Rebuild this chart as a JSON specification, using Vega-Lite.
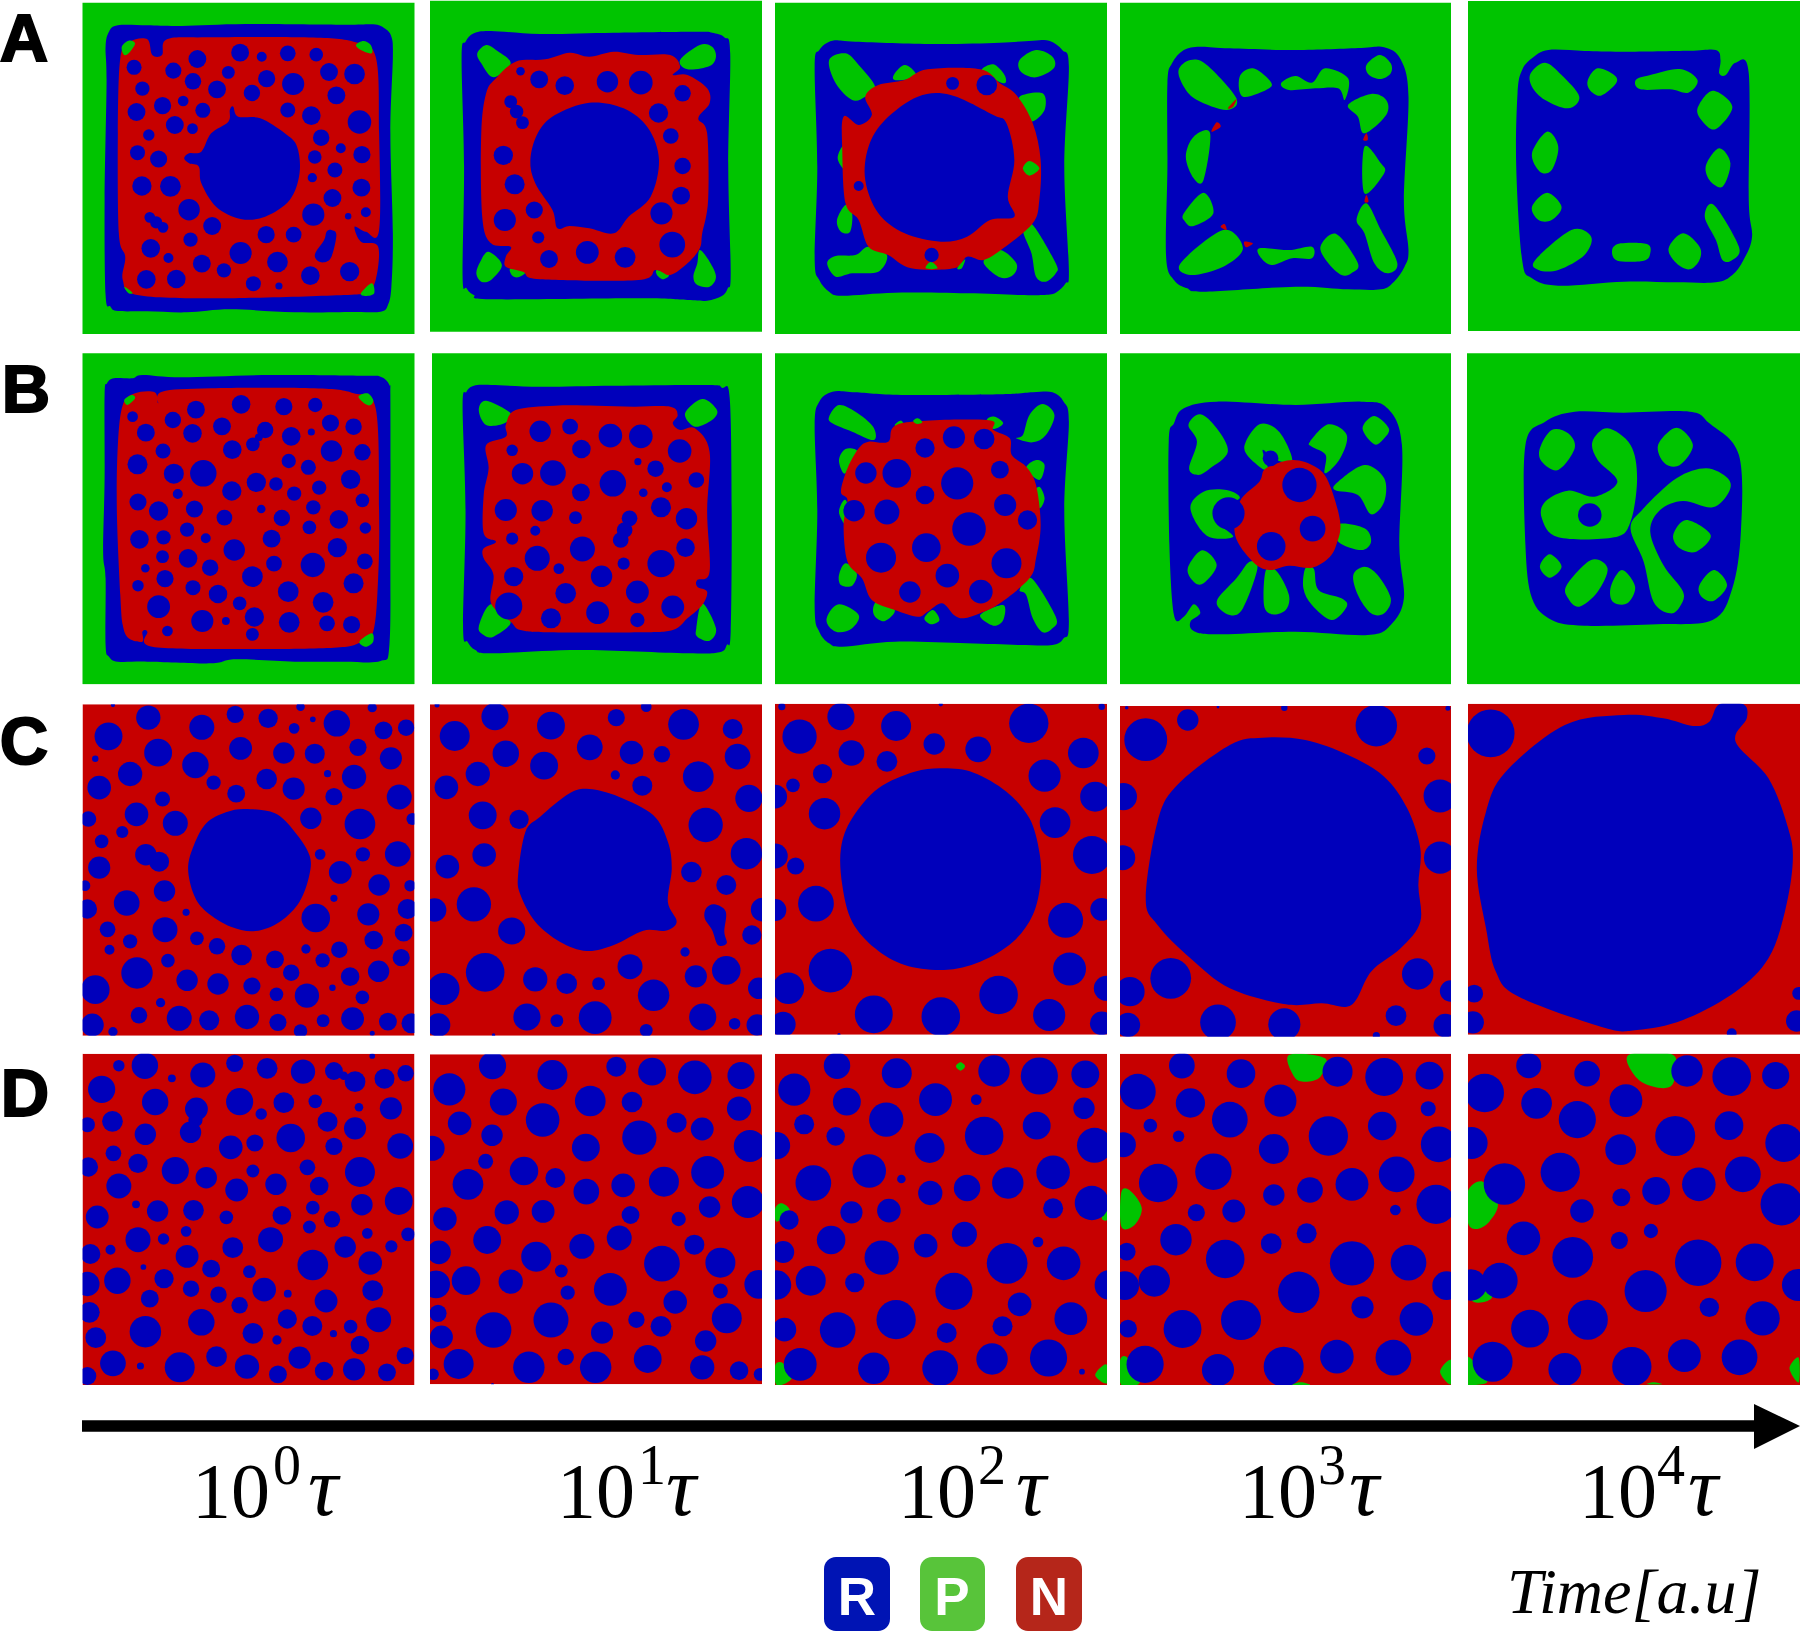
{"$schema":"https://vega.github.io/schema/vega-lite/v6.json","width":1800,"height":1631,"padding":0,"autosize":{"type":"none"},"background":"white","config":{"view":{"stroke":null},"range":{"category":["#C70000","#00C400","#0000BB"]}},"resolve":{"scale":{"x":"independent","y":"independent"}},"layer":[
{"data":{"values":[{"x":82.5,"x2":414.5,"y":2.7,"y2":334,"k":"P"},{"x":430,"x2":762,"y":0.7,"y2":331.7,"k":"P"},{"x":775,"x2":1107,"y":2.7,"y2":334,"k":"P"},{"x":1120,"x2":1451,"y":2.7,"y2":334,"k":"P"},{"x":1468,"x2":1800,"y":1,"y2":331,"k":"P"},{"x":82.5,"x2":414.5,"y":353.3,"y2":684.3,"k":"P"},{"x":432,"x2":762,"y":353.3,"y2":684.3,"k":"P"},{"x":775,"x2":1107,"y":353.3,"y2":684.3,"k":"P"},{"x":1120,"x2":1451,"y":353.3,"y2":684.3,"k":"P"},{"x":1467,"x2":1800,"y":353.3,"y2":684.3,"k":"P"},{"x":82.5,"x2":414.5,"y":704.3,"y2":1035.7,"k":"N"},{"x":430,"x2":762,"y":704.3,"y2":1035.7,"k":"N"},{"x":775,"x2":1107,"y":703.7,"y2":1034.7,"k":"N"},{"x":1120,"x2":1451,"y":706,"y2":1036.7,"k":"N"},{"x":1468,"x2":1800,"y":703.7,"y2":1034.7,"k":"N"},{"x":82.5,"x2":414.5,"y":1053.7,"y2":1385,"k":"N"},{"x":430,"x2":762,"y":1054.3,"y2":1384.3,"k":"N"},{"x":775,"x2":1107,"y":1053.7,"y2":1385,"k":"N"},{"x":1120,"x2":1451,"y":1053.7,"y2":1385,"k":"N"},{"x":1468,"x2":1800,"y":1053.7,"y2":1385,"k":"N"}]},"mark":"rect","encoding":{"x":{"field":"x","type":"quantitative","axis":null,"scale":{"domain":[0,1800],"nice":false,"zero":false}},"x2":{"field":"x2"},"y":{"field":"y","type":"quantitative","axis":null,"scale":{"domain":[0,1631],"nice":false,"zero":false,"reverse":true}},"y2":{"field":"y2"},"color":{"field":"k","type":"nominal","legend":null}}},

{"data":{"values":[
{"s":1,"k":"R","x":[215,222,240,300,370,500,700,760,783,797,800,795,800,797,790,775,720,600,470,380,300,240,225,215,213,217],"y":[140,95,76,76,78,72,74,73,85,110,170,400,700,860,915,935,936,937,928,937,934,933,920,885,600,250]},
{"s":2,"k":"N","x":[245,265,300,310,330,340,420,620,720,765,772,772,745,722,735,770,765,745,700,440,280,250,255,242,240],"y":[175,125,118,165,165,118,112,112,125,170,400,690,695,680,725,740,840,875,885,895,885,840,770,700,400]},
{"s":3,"k":"R","x":[475,485,530,580,605,610,590,540,490,440,410,405,385,375,385,410,430,465,468],"y":[320,350,355,400,440,520,600,650,657,620,550,500,490,475,460,455,400,365,330]},
{"s":4,"k":"R","x":[675,685,675,660,645,642,660,665],"y":[690,705,770,787,780,760,720,695]},
{"s":5,"k":"P","x":[248,262,275,265,253],"y":[140,122,130,155,165]},
{"s":6,"k":"P","x":[725,740,755,757,735],"y":[135,123,135,160,150]},
{"s":7,"k":"P","x":[735,757,762,745],"y":[880,850,880,888]},
{"s":8,"k":"P","x":[253,270,262],"y":[860,878,880]},
{"s":9,"k":"R","x":[940,948,965,1000,1100,1250,1420,1450,1475,1487,1483,1488,1482,1470,1440,1400,1300,1000,965,950,942,945],"y":[170,125,100,93,102,98,95,98,112,160,500,820,865,888,902,900,895,898,885,865,830,500]},
{"s":10,"k":"P","x":[972,990,1010,1040,1005,980],"y":[160,135,150,190,232,190]},
{"s":11,"k":"P","x":[1385,1425,1450,1458,1445,1400],"y":[180,135,140,170,198,208]},
{"s":12,"k":"P","x":[995,1022,1000,980,970,978],"y":[755,795,840,845,820,785]},
{"s":13,"k":"P","x":[1425,1445,1458,1445,1420,1412,1420],"y":[750,785,830,860,855,830,790]},
{"s":14,"k":"P","x":[1040,1070,1055,1042],"y":[805,815,832,825]},
{"s":15,"k":"P","x":[1338,1362,1350,1338],"y":[810,825,838,825]},
{"s":16,"k":"N","x":[990,1010,1050,1110,1160,1200,1250,1300,1365,1385,1370,1400,1440,1445,1422,1440,1442,1430,1425,1400,1365,1335,1300,1100,1065,1030,1030,1040,1000,982,980],"y":[280,235,185,178,158,170,155,165,165,200,225,225,265,310,355,400,600,700,745,790,825,810,840,838,815,800,770,740,730,650,400]},
{"s":17,"k":"R","x":[1200,1270,1320,1342,1325,1280,1250,1200,1160,1135,1125,1090,1080,1095,1130],"y":[308,325,385,480,590,650,700,685,678,685,630,550,480,400,345]}
]},"transform":[{"flatten":["x","y"]}],"mark":{"type":"line","filled":true,"interpolate":"cardinal-closed","strokeWidth":0},"encoding":{"x":{"field":"x","type":"quantitative","axis":null,"scale":{"domain":[0,3665.5],"nice":false,"zero":false}},"y":{"field":"y","type":"quantitative","axis":null,"scale":{"domain":[0,4893],"nice":false,"zero":false,"reverse":true}},"color":{"field":"k","type":"nominal","legend":null},"detail":{"field":"s"},"order":{"value":null}}},
{"data":{"values":[{"x":402,"y":177,"d":50},{"x":489,"y":158,"d":50},{"x":533,"y":170,"d":28},{"x":586,"y":160,"d":44},{"x":644,"y":164,"d":38},{"x":273,"y":202,"d":42},{"x":353,"y":212,"d":45},{"x":465,"y":217,"d":36},{"x":393,"y":244,"d":46},{"x":543,"y":236,"d":48},{"x":670,"y":216,"d":50},{"x":722,"y":222,"d":58},{"x":597,"y":252,"d":62},{"x":290,"y":266,"d":40},{"x":442,"y":268,"d":50},{"x":513,"y":279,"d":46},{"x":685,"y":286,"d":50},{"x":373,"y":303,"d":30},{"x":331,"y":317,"d":48},{"x":278,"y":336,"d":50},{"x":413,"y":331,"d":42},{"x":586,"y":330,"d":42},{"x":634,"y":347,"d":52},{"x":732,"y":366,"d":66},{"x":356,"y":375,"d":50},{"x":392,"y":386,"d":30},{"x":303,"y":405,"d":32},{"x":654,"y":413,"d":46},{"x":694,"y":445,"d":28},{"x":280,"y":458,"d":42},{"x":323,"y":477,"d":48},{"x":641,"y":471,"d":38},{"x":737,"y":464,"d":48},{"x":682,"y":510,"d":42},{"x":636,"y":533,"d":26},{"x":289,"y":558,"d":54},{"x":347,"y":559,"d":58},{"x":736,"y":563,"d":50},{"x":677,"y":594,"d":50},{"x":385,"y":629,"d":60},{"x":638,"y":644,"d":62},{"x":709,"y":649,"d":18},{"x":745,"y":637,"d":28},{"x":432,"y":678,"d":50},{"x":388,"y":719,"d":40},{"x":542,"y":704,"d":48},{"x":598,"y":704,"d":44},{"x":343,"y":774,"d":28},{"x":307,"y":745,"d":52},{"x":490,"y":759,"d":62},{"x":411,"y":791,"d":50},{"x":565,"y":786,"d":58},{"x":456,"y":811,"d":40},{"x":632,"y":827,"d":52},{"x":712,"y":815,"d":54},{"x":298,"y":838,"d":52},{"x":359,"y":837,"d":52},{"x":516,"y":851,"d":42},{"x":568,"y":858,"d":20},{"x":305,"y":652,"d":30},{"x":318,"y":667,"d":34},{"x":332,"y":682,"d":30},
{"x":1060,"y":214,"d":24},{"x":1098,"y":238,"d":50},{"x":1150,"y":257,"d":52},{"x":1237,"y":245,"d":60},{"x":1305,"y":248,"d":66},{"x":1390,"y":280,"d":46},{"x":1341,"y":339,"d":54},{"x":1366,"y":408,"d":44},{"x":1025,"y":466,"d":54},{"x":1390,"y":498,"d":46},{"x":1048,"y":553,"d":56},{"x":1387,"y":587,"d":50},{"x":1088,"y":630,"d":48},{"x":1028,"y":660,"d":62},{"x":1347,"y":640,"d":62},{"x":1096,"y":712,"d":34},{"x":1369,"y":734,"d":72},{"x":1196,"y":757,"d":64},{"x":1273,"y":772,"d":58},{"x":1118,"y":777,"d":50},{"x":1040,"y":305,"d":36},{"x":1052,"y":335,"d":38},{"x":1064,"y":368,"d":36}]},"mark":{"type":"circle","color":"#0000BB","opacity":1},"encoding":{"x":{"field":"x","type":"quantitative","axis":null,"scale":{"domain":[0,3665.5],"nice":false,"zero":false}},"y":{"field":"y","type":"quantitative","axis":null,"scale":{"domain":[0,4893],"nice":false,"zero":false,"reverse":true}},"size":{"field":"d","type":"quantitative","legend":null,"scale":{"type":"pow","exponent":2,"domain":[0,300],"range":[0,11500]}}}},

{"data":{"values":[
{"s":1,"k":"R","x":[68,75,95,130,250,350,400,425,445,455,448,455,450,435,415,380,300,190,110,90,75,68,72],"y":[200,150,122,125,132,128,122,122,150,200,500,810,850,878,885,885,880,878,887,875,840,780,500]},
{"s":2,"k":"P","x":[90,115,135,160,145,125,100],"y":[180,160,195,260,290,300,250]},
{"s":3,"k":"P","x":[405,430,432,405,382,380],"y":[150,170,205,232,215,180]},
{"s":4,"k":"P","x":[190,205,220,220,190],"y":[220,195,215,235,240]},
{"s":5,"k":"P","x":[322,340,357,357,335],"y":[210,193,225,250,230]},
{"s":6,"k":"P","x":[380,415,418,398,385],"y":[290,280,330,365,330]},
{"s":7,"k":"P","x":[103,113,125,115],"y":[475,435,470,510]},
{"s":8,"k":"P","x":[102,115,125,122,108],"y":[660,615,640,695,695]},
{"s":9,"k":"P","x":[87,100,130,150,178,165,125,100],"y":[790,768,765,740,765,815,820,830]},
{"s":10,"k":"P","x":[325,350,375,370,350],"y":[785,750,790,825,832]},
{"s":11,"k":"P","x":[385,400,435,435,420,405,398],"y":[690,675,790,820,845,830,760]},
{"s":12,"k":"N","x":[145,165,205,240,320,350,375,400,412,410,400,355,325,300,280,215,180,150,135,115,110,112,135,155],"y":[290,255,240,208,208,250,285,370,480,600,670,745,780,770,805,805,765,740,660,610,450,350,375,345]},
{"s":13,"k":"R","x":[225,275,340,360,372,362,372,335,300,260,205,165,145,150,175],"y":[290,285,345,370,480,590,650,660,710,725,700,640,540,440,360]},
{"s":14,"k":"P","x":[385,395,410,395],"y":[505,483,505,527]},
{"s":15,"k":"P","x":[237,245,255],"y":[805,785,805]},
{"s":16,"k":"P","x":[285,297,292],"y":[805,778,805]},
{"s":17,"k":"R","x":[605,612,630,655,700,800,900,935,960,972,965,972,966,950,930,880,800,660,635,615,603,605],"y":[250,190,150,140,145,150,144,142,178,290,600,750,800,845,868,868,860,875,865,840,770,500]},
{"s":18,"k":"P","x":[622,640,665,710,695,650,630],"y":[210,180,195,295,330,300,260]},
{"s":19,"k":"P","x":[715,735,760,760,720],"y":[230,205,240,265,290]},
{"s":20,"k":"P","x":[778,800,825,845,880,875,865,830,790],"y":[250,228,248,205,235,300,265,265,270]},
{"s":21,"k":"P","x":[908,928,945,945,930,912],"y":[195,165,190,220,237,225]},
{"s":22,"k":"P","x":[880,915,938,938,905,895],"y":[315,282,300,345,400,350]},
{"s":23,"k":"P","x":[633,645,670,660,645],"y":[470,410,400,540,535]},
{"s":24,"k":"P","x":[905,930,935,905],"y":[440,490,520,580]},
{"s":25,"k":"P","x":[630,660,675,645,632],"y":[640,578,640,678,665]},
{"s":26,"k":"P","x":[893,908,930,955,940,920,905],"y":[660,610,690,790,820,790,700]},
{"s":27,"k":"P","x":[625,690,720,690,640],"y":[790,690,745,800,825]},
{"s":28,"k":"P","x":[745,790,825,825,795,765,748],"y":[745,750,740,775,775,795,775]},
{"s":29,"k":"P","x":[838,862,895,885,870,850],"y":[740,702,790,820,825,790]},
{"s":30,"k":"N","x":[697,710,705],"y":[325,297,320]},
{"s":31,"k":"N","x":[672,680,686],"y":[395,367,380]},
{"s":32,"k":"N","x":[686,692,695],"y":[680,672,690]},
{"s":33,"k":"N","x":[722,735,725],"y":[725,730,742]},
{"s":34,"k":"N","x":[903,908,910],"y":[420,400,420]},
{"s":35,"k":"N","x":[905,908,911],"y":[605,585,605]},
{"s":36,"k":"R","x":[1138,1145,1160,1185,1240,1300,1400,1440,1447,1445,1455,1470,1490,1490,1495,1482,1465,1440,1380,1300,1200,1160,1145,1136],"y":[280,210,175,150,153,155,152,150,180,220,225,188,220,600,710,780,825,847,847,845,857,835,780,500]},
{"s":37,"k":"P","x":[1158,1180,1205,1232,1215,1180,1160],"y":[220,188,225,290,325,300,260]},
{"s":38,"k":"P","x":[1245,1260,1285,1288,1265,1248],"y":[240,205,225,250,287,270]},
{"s":39,"k":"P","x":[1318,1340,1385,1412,1398,1370,1325],"y":[240,225,207,240,278,268,268]},
{"s":40,"k":"P","x":[1412,1435,1465,1440,1420],"y":[325,272,320,387,365]},
{"s":41,"k":"P","x":[1160,1183,1200,1190,1172],"y":[460,395,440,510,515]},
{"s":42,"k":"P","x":[1425,1445,1462,1450,1430],"y":[495,445,490,560,540]},
{"s":43,"k":"P","x":[1160,1183,1205,1190,1170],"y":[620,578,620,660,660]},
{"s":44,"k":"P","x":[1423,1437,1475,1465,1450,1440],"y":[650,615,740,780,780,720]},
{"s":45,"k":"P","x":[1165,1220,1250,1240,1200,1170],"y":[780,690,710,765,810,810]},
{"s":46,"k":"P","x":[1282,1295,1335,1340,1330,1290],"y":[750,730,732,760,782,782]},
{"s":47,"k":"P","x":[1368,1390,1415,1415,1400,1380],"y":[745,700,740,780,808,790]}
]},"transform":[{"flatten":["x","y"]}],"mark":{"type":"line","filled":true,"interpolate":"cardinal-closed","strokeWidth":0},"encoding":{"x":{"field":"x","type":"quantitative","axis":null,"scale":{"domain":[-1172.2,1568],"nice":false,"zero":false}},"y":{"field":"y","type":"quantitative","axis":null,"scale":{"domain":[0,4893],"nice":false,"zero":false,"reverse":true}},"color":{"field":"k","type":"nominal","legend":null},"detail":{"field":"s"},"order":{"value":null}}},
{"data":{"values":[{"x":278,"y":250,"d":36},{"x":330,"y":255,"d":58},{"x":246,"y":765,"d":40},{"x":135,"y":558,"d":28}]},"mark":{"type":"circle","color":"#0000BB","opacity":1},"encoding":{"x":{"field":"x","type":"quantitative","axis":null,"scale":{"domain":[-1172.2,1568],"nice":false,"zero":false}},"y":{"field":"y","type":"quantitative","axis":null,"scale":{"domain":[0,4893],"nice":false,"zero":false,"reverse":true}},"size":{"field":"d","type":"quantitative","legend":null,"scale":{"type":"pow","exponent":2,"domain":[0,300],"range":[0,11500]}}}},

{"data":{"values":[
{"s":1,"k":"R","x":[213,218,232,270,290,370,550,740,775,793,795,795,793,775,700,600,480,430,300,240,222,215,215,210,213],"y":[150,115,100,100,90,97,90,92,95,120,170,600,900,948,950,950,943,955,950,950,935,900,700,620,400]},
{"s":2,"k":"N","x":[240,250,275,315,322,330,430,640,720,765,772,770,760,730,680,500,310,300,290,290,262,250,245,238],"y":[300,180,145,142,175,140,130,130,145,190,500,700,860,895,908,912,905,860,860,890,880,840,750,500]},
{"s":3,"k":"P","x":[253,268,275,260],"y":[165,150,160,180]},
{"s":4,"k":"P","x":[730,748,760,755,745],"y":[155,145,165,180,178]},
{"s":5,"k":"P","x":[732,757,760,745],"y":[890,865,890,905]},
{"s":6,"k":"R","x":[942,950,965,1000,1100,1250,1440,1470,1486,1490,1488,1480,1465,1400,1180,1000,968,952,943,948],"y":[180,140,122,120,125,122,120,128,160,500,860,900,922,925,915,925,915,890,850,500]},
{"s":7,"k":"P","x":[975,990,1040,1027,990],"y":[195,167,205,235,240]},
{"s":8,"k":"P","x":[1395,1430,1460,1450,1415],"y":[205,162,195,225,245]},
{"s":9,"k":"P","x":[975,1000,1040,1005,985],"y":[845,778,830,875,870]},
{"s":10,"k":"P","x":[1418,1430,1458,1445,1420],"y":[850,775,850,887,875]},
{"s":11,"k":"N","x":[1030,1050,1130,1215,1290,1365,1380,1370,1385,1415,1445,1440,1445,1420,1420,1440,1430,1400,1370,1300,1120,1060,1040,1000,1005,985,985,1010,985,985,995,990,1030],"y":[240,195,182,182,185,185,210,235,255,250,320,500,680,705,725,740,780,820,855,862,862,855,830,775,690,640,610,590,565,450,370,300,275]}
]},"transform":[{"flatten":["x","y"]}],"mark":{"type":"line","filled":true,"interpolate":"cardinal-closed","strokeWidth":0},"encoding":{"x":{"field":"x","type":"quantitative","axis":null,"scale":{"domain":[0,3665.5],"nice":false,"zero":false}},"y":{"field":"y","type":"quantitative","axis":null,"scale":{"domain":[-1035,3858],"nice":false,"zero":false,"reverse":true}},"color":{"field":"k","type":"nominal","legend":null},"detail":{"field":"s"},"order":{"value":null}}},
{"data":{"values":[{"x":399,"y":194,"d":50},{"x":491,"y":178,"d":52},{"x":578,"y":185,"d":48},{"x":642,"y":180,"d":40},{"x":270,"y":215,"d":30},{"x":352,"y":225,"d":46},{"x":297,"y":263,"d":50},{"x":392,"y":265,"d":52},{"x":452,"y":244,"d":50},{"x":673,"y":234,"d":48},{"x":720,"y":245,"d":46},{"x":593,"y":274,"d":52},{"x":634,"y":261,"d":20},{"x":473,"y":314,"d":52},{"x":332,"y":318,"d":42},{"x":675,"y":318,"d":60},{"x":738,"y":322,"d":46},{"x":280,"y":358,"d":56},{"x":354,"y":386,"d":56},{"x":414,"y":385,"d":74},{"x":588,"y":348,"d":40},{"x":628,"y":367,"d":42},{"x":714,"y":403,"d":54},{"x":472,"y":438,"d":54},{"x":522,"y":412,"d":54},{"x":562,"y":417,"d":38},{"x":650,"y":428,"d":40},{"x":362,"y":447,"d":28},{"x":599,"y":446,"d":40},{"x":738,"y":466,"d":38},{"x":281,"y":471,"d":48},{"x":323,"y":498,"d":54},{"x":396,"y":492,"d":48},{"x":638,"y":487,"d":40},{"x":532,"y":492,"d":24},{"x":457,"y":518,"d":44},{"x":574,"y":519,"d":46},{"x":690,"y":523,"d":52},{"x":381,"y":554,"d":40},{"x":630,"y":547,"d":38},{"x":744,"y":549,"d":32},{"x":284,"y":583,"d":52},{"x":333,"y":577,"d":40},{"x":419,"y":580,"d":28},{"x":553,"y":581,"d":50},{"x":687,"y":608,"d":54},{"x":477,"y":615,"d":60},{"x":331,"y":635,"d":36},{"x":383,"y":640,"d":52},{"x":743,"y":649,"d":44},{"x":558,"y":656,"d":44},{"x":637,"y":660,"d":68},{"x":428,"y":668,"d":46},{"x":296,"y":670,"d":24},{"x":514,"y":695,"d":58},{"x":336,"y":701,"d":48},{"x":720,"y":715,"d":56},{"x":281,"y":722,"d":32},{"x":393,"y":728,"d":42},{"x":444,"y":747,"d":52},{"x":587,"y":740,"d":58},{"x":658,"y":772,"d":58},{"x":488,"y":775,"d":38},{"x":323,"y":785,"d":64},{"x":412,"y":828,"d":62},{"x":460,"y":828,"d":22},{"x":518,"y":816,"d":54},{"x":589,"y":832,"d":58},{"x":666,"y":835,"d":44},{"x":716,"y":839,"d":48},{"x":341,"y":858,"d":30},{"x":514,"y":868,"d":36},{"x":540,"y":255,"d":46},{"x":527,"y":277,"d":22},{"x":515,"y":298,"d":38},
{"x":1100,"y":259,"d":60},{"x":1161,"y":245,"d":44},{"x":1243,"y":272,"d":66},{"x":1305,"y":274,"d":66},{"x":1384,"y":318,"d":66},{"x":1184,"y":312,"d":52},{"x":1043,"y":316,"d":32},{"x":1299,"y":350,"d":20},{"x":1335,"y":371,"d":46},{"x":1064,"y":386,"d":60},{"x":1126,"y":384,"d":72},{"x":1248,"y":415,"d":74},{"x":1418,"y":405,"d":44},{"x":1358,"y":427,"d":28},{"x":1183,"y":442,"d":50},{"x":1310,"y":443,"d":24},{"x":1030,"y":495,"d":62},{"x":1104,"y":497,"d":60},{"x":1346,"y":487,"d":56},{"x":1172,"y":518,"d":36},{"x":1398,"y":521,"d":60},{"x":1090,"y":557,"d":28},{"x":1043,"y":581,"d":34},{"x":1186,"y":612,"d":70},{"x":1396,"y":608,"d":52},{"x":1094,"y":640,"d":70},{"x":1346,"y":656,"d":76},{"x":1270,"y":656,"d":34},{"x":1138,"y":671,"d":30},{"x":1225,"y":694,"d":60},{"x":1046,"y":695,"d":54},{"x":1152,"y":745,"d":58},{"x":1298,"y":741,"d":64},{"x":1370,"y":786,"d":64},{"x":1217,"y":803,"d":64},{"x":1036,"y":783,"d":76},{"x":1122,"y":820,"d":56},{"x":1298,"y":825,"d":40},{"x":1282,"y":520,"d":44},{"x":1272,"y":555,"d":44},{"x":1264,"y":585,"d":44}]},"mark":{"type":"circle","color":"#0000BB","opacity":1},"encoding":{"x":{"field":"x","type":"quantitative","axis":null,"scale":{"domain":[0,3665.5],"nice":false,"zero":false}},"y":{"field":"y","type":"quantitative","axis":null,"scale":{"domain":[-1035,3858],"nice":false,"zero":false,"reverse":true}},"size":{"field":"d","type":"quantitative","legend":null,"scale":{"type":"pow","exponent":2,"domain":[0,300],"range":[0,11500]}}}},

{"data":{"values":[
{"s":1,"k":"R","x":[68,75,95,130,200,350,400,430,447,455,448,455,447,430,380,300,190,110,90,75,68,72],"y":[240,170,140,142,150,148,142,142,170,230,500,830,880,900,900,895,890,905,895,860,790,500]},
{"s":2,"k":"P","x":[90,105,130,157,158,125,95],"y":[215,180,200,245,285,260,235]},
{"s":3,"k":"P","x":[385,395,415,433,420,400,375],"y":[270,210,177,210,270,292,280]},
{"s":4,"k":"P","x":[105,115,133,120,112],"y":[345,312,320,370,385]},
{"s":5,"k":"P","x":[390,405,418,410],"y":[370,345,360,405]},
{"s":6,"k":"P","x":[400,410,418,410],"y":[450,425,460,490]},
{"s":7,"k":"P","x":[105,115,125,115],"y":[500,465,530,540]},
{"s":8,"k":"P","x":[105,115,132,125,108],"y":[690,655,685,722,720]},
{"s":9,"k":"P","x":[87,105,135,125,105,90],"y":[815,778,810,850,862,845]},
{"s":10,"k":"P","x":[157,165,190,175,160],"y":[790,768,795,828,815]},
{"s":11,"k":"P","x":[320,355,355,340],"y":[810,780,825,842]},
{"s":12,"k":"P","x":[235,248,258,245],"y":[820,795,825,838]},
{"s":13,"k":"P","x":[380,398,435,430,415,400,390],"y":[735,700,815,850,862,820,750]},
{"s":14,"k":"P","x":[190,200,205,195],"y":[240,227,250,250]},
{"s":15,"k":"P","x":[330,342,355,340],"y":[225,215,235,252]},
{"s":16,"k":"N","x":[150,180,200,330,340,365,368,390,405,412,405,395,350,320,295,280,262,240,225,190,155,140,118,112,118,108,118,135],"y":[290,290,235,225,255,280,330,365,420,540,640,700,775,805,820,810,775,800,815,795,765,700,650,540,465,440,370,310]},
{"s":17,"k":"P","x":[218,225,232,224],"y":[228,220,232,237]},
{"s":18,"k":"R","x":[607,615,630,680,800,900,940,962,958,965,945,910,800,680,645,640,655,645,630,615,608],"y":[290,235,190,170,180,170,190,300,600,760,840,870,860,868,858,830,805,778,815,810,600]},
{"s":19,"k":"P","x":[637,655,680,697,670,652,638,650],"y":[240,208,250,320,370,390,370,290]},
{"s":20,"k":"P","x":[722,745,775,795,770,750,758,745],"y":[310,238,260,345,345,315,370,365]},
{"s":21,"k":"P","x":[822,850,878,868,845,846,825],"y":[290,238,270,340,385,330,305]},
{"s":22,"k":"P","x":[902,920,942,935,920],"y":[250,213,250,280,298]},
{"s":23,"k":"P","x":[865,905,935,935,915,895,860],"y":[410,360,400,470,508,450,435]},
{"s":24,"k":"P","x":[640,660,695,715,680,680,705,665],"y":[490,440,435,460,490,530,575,572]},
{"s":25,"k":"P","x":[865,905,915,900,865],"y":[538,550,590,615,590]},
{"s":26,"k":"P","x":[636,658,680,660,645],"y":[670,616,660,715,710]},
{"s":27,"k":"P","x":[680,710,730,742,720,700],"y":[770,700,650,670,790,810]},
{"s":28,"k":"P","x":[755,772,790,785,765,752],"y":[675,680,750,795,808,780]},
{"s":29,"k":"P","x":[815,828,835,870,878,855,825,812],"y":[670,672,735,760,785,825,780,730]},
{"s":30,"k":"P","x":[888,905,925,945,935,915,895],"y":[690,665,690,760,805,805,750]},
{"s":31,"k":"N","x":[755,795,830,850,868,862,850,825,790,760,735,708,715,745],"y":[370,345,365,410,530,600,640,668,662,675,650,570,470,410]},
{"s":32,"k":"R","x":[1150,1180,1225,1300,1400,1430,1475,1478,1465,1435,1350,1240,1190,1160,1150],"y":[300,230,200,203,200,235,330,560,730,825,838,842,825,760,600]},
{"s":33,"k":"P","x":[1172,1190,1215,1225,1200,1175],"y":[310,255,265,310,375,350]},
{"s":34,"k":"P","x":[1352,1380,1405,1385,1362],"y":[300,248,300,360,355]},
{"s":35,"k":"P","x":[1252,1275,1310,1320,1310,1285,1200,1175,1180,1215,1255,1290,1260],"y":[290,250,300,400,530,577,577,520,470,437,455,410,345]},
{"s":36,"k":"P","x":[1310,1330,1380,1425,1458,1460,1435,1390,1355,1340,1360,1390,1385,1370,1345,1330],"y":[550,490,400,370,400,440,487,468,495,560,660,740,785,805,770,650]},
{"s":37,"k":"P","x":[1375,1395,1432,1410,1385],"y":[570,525,570,620,610]},
{"s":38,"k":"P","x":[1172,1187,1205,1187],"y":[665,628,665,698]},
{"s":39,"k":"P","x":[1213,1250,1275,1260,1232,1215],"y":[720,645,670,740,785,760]},
{"s":40,"k":"P","x":[1280,1297,1317,1305,1283],"y":[725,675,725,775,770]},
{"s":41,"k":"P","x":[1415,1437,1457,1437,1418],"y":[720,675,720,767,755]}
]},"transform":[{"flatten":["x","y"]}],"mark":{"type":"line","filled":true,"interpolate":"cardinal-closed","strokeWidth":0},"encoding":{"x":{"field":"x","type":"quantitative","axis":null,"scale":{"domain":[-1172.2,1568],"nice":false,"zero":false}},"y":{"field":"y","type":"quantitative","axis":null,"scale":{"domain":[-1035,3858],"nice":false,"zero":false,"reverse":true}},"color":{"field":"k","type":"nominal","legend":null},"detail":{"field":"s"},"order":{"value":null}}},
{"data":{"values":[{"x":280,"y":277,"d":62},{"x":326,"y":282,"d":58},{"x":236,"y":309,"d":54},{"x":146,"y":384,"d":60},{"x":193,"y":385,"d":80},{"x":350,"y":374,"d":50},{"x":285,"y":415,"d":90},{"x":236,"y":450,"d":52},{"x":358,"y":480,"d":62},{"x":128,"y":497,"d":60},{"x":178,"y":501,"d":70},{"x":392,"y":525,"d":54},{"x":303,"y":552,"d":94},{"x":238,"y":608,"d":80},{"x":169,"y":638,"d":84},{"x":360,"y":655,"d":84},{"x":270,"y":692,"d":66},{"x":213,"y":741,"d":60},{"x":321,"y":740,"d":66},{"x":806,"y":420,"d":96},{"x":826,"y":551,"d":72},{"x":763,"y":604,"d":80},{"x":698,"y":505,"d":90},{"x":762,"y":340,"d":44},{"x":1248,"y":510,"d":66}]},"mark":{"type":"circle","color":"#0000BB","opacity":1},"encoding":{"x":{"field":"x","type":"quantitative","axis":null,"scale":{"domain":[-1172.2,1568],"nice":false,"zero":false}},"y":{"field":"y","type":"quantitative","axis":null,"scale":{"domain":[-1035,3858],"nice":false,"zero":false,"reverse":true}},"size":{"field":"d","type":"quantitative","legend":null,"scale":{"type":"pow","exponent":2,"domain":[0,300],"range":[0,11500]}}}},

{"data":{"values":[
{"s":1,"k":"R","x":[500,560,600,630,630,610,570,520,470,420,395,383,395,420,460],"y":[342,355,410,480,540,620,680,708,695,650,600,520,450,385,352]},
{"s":2,"k":"R","x":[1200,1260,1330,1360,1368,1360,1378,1355,1310,1250,1195,1140,1090,1060,1055,1070,1100,1160],"y":[282,305,360,440,520,620,680,707,707,750,768,740,680,600,540,410,365,295]},
{"s":3,"k":"R","x":[1455,1478,1475,1480,1462,1450,1435,1438],"y":[628,650,710,745,750,705,670,640]}
]},"transform":[{"flatten":["x","y"]}],"mark":{"type":"line","filled":true,"interpolate":"cardinal-closed","strokeWidth":0},"encoding":{"x":{"field":"x","type":"quantitative","axis":null,"scale":{"domain":[0,3665.5],"nice":false,"zero":false}},"y":{"field":"y","type":"quantitative","axis":null,"scale":{"domain":[-2085,2808],"nice":false,"zero":false,"reverse":true}},"color":{"field":"k","type":"nominal","legend":null},"detail":{"field":"s"},"order":{"value":null}}},
{"data":{"values":[{"x":302,"y":68,"d":68},{"x":612,"y":35,"d":24},{"x":479,"y":58,"d":48},{"x":546,"y":70,"d":54},{"x":686,"y":85,"d":74},{"x":758,"y":38,"d":26},{"x":230,"y":30,"d":12},{"x":637,"y":73,"d":16},{"x":411,"y":97,"d":70},{"x":599,"y":100,"d":30},{"x":221,"y":124,"d":78},{"x":781,"y":106,"d":50},{"x":827,"y":98,"d":46},{"x":322,"y":173,"d":78},{"x":490,"y":160,"d":64},{"x":578,"y":174,"d":60},{"x":641,"y":176,"d":56},{"x":729,"y":157,"d":48},{"x":398,"y":210,"d":74},{"x":796,"y":190,"d":62},{"x":194,"y":191,"d":18},{"x":265,"y":237,"d":68},{"x":543,"y":252,"d":58},{"x":667,"y":236,"d":20},{"x":721,"y":246,"d":68},{"x":202,"y":278,"d":66},{"x":435,"y":263,"d":40},{"x":598,"y":281,"d":62},{"x":813,"y":306,"d":70},{"x":481,"y":296,"d":50},{"x":680,"y":305,"d":48},{"x":331,"y":312,"d":42},{"x":278,"y":358,"d":66},{"x":180,"y":372,"d":44},{"x":357,"y":385,"d":70},{"x":633,"y":370,"d":60},{"x":733,"y":387,"d":86},{"x":840,"y":372,"d":34},{"x":249,"y":411,"d":34},{"x":207,"y":439,"d":38},{"x":297,"y":479,"d":60},{"x":652,"y":478,"d":30},{"x":739,"y":478,"d":40},{"x":810,"y":477,"d":72},{"x":324,"y":500,"d":56},{"x":202,"y":518,"d":62},{"x":693,"y":532,"d":64},{"x":772,"y":570,"d":60},{"x":173,"y":572,"d":30},{"x":335,"y":588,"d":60},{"x":835,"y":572,"d":32},{"x":258,"y":624,"d":72},{"x":680,"y":610,"d":20},{"x":178,"y":642,"d":54},{"x":379,"y":652,"d":20},{"x":830,"y":642,"d":56},{"x":643,"y":669,"d":80},{"x":750,"y":658,"d":62},{"x":336,"y":704,"d":70},{"x":219,"y":703,"d":44},{"x":822,"y":713,"d":50},{"x":401,"y":730,"d":38},{"x":761,"y":735,"d":52},{"x":265,"y":739,"d":40},{"x":223,"y":764,"d":28},{"x":442,"y":754,"d":46},{"x":492,"y":780,"d":58},{"x":623,"y":762,"d":26},{"x":691,"y":764,"d":46},{"x":560,"y":793,"d":50},{"x":657,"y":796,"d":40},{"x":342,"y":797,"d":38},{"x":817,"y":788,"d":48},{"x":279,"y":834,"d":88},{"x":593,"y":833,"d":46},{"x":771,"y":829,"d":60},{"x":381,"y":856,"d":60},{"x":713,"y":845,"d":52},{"x":444,"y":867,"d":60},{"x":513,"y":873,"d":48},{"x":677,"y":878,"d":18},{"x":194,"y":884,"d":80},{"x":625,"y":902,"d":68},{"x":563,"y":898,"d":38},{"x":738,"y":907,"d":38},{"x":327,"y":923,"d":26},{"x":283,"y":961,"d":46},{"x":365,"y":970,"d":70},{"x":426,"y":976,"d":56},{"x":503,"y":966,"d":68},{"x":566,"y":982,"d":48},{"x":658,"y":977,"d":36},{"x":718,"y":971,"d":64},{"x":790,"y":980,"d":50},{"x":188,"y":990,"d":64},{"x":230,"y":1010,"d":26},{"x":612,"y":1008,"d":38},{"x":838,"y":985,"d":56},{"x":758,"y":1015,"d":14},
{"x":1008,"y":65,"d":76},{"x":1255,"y":68,"d":48},{"x":1316,"y":35,"d":30},{"x":1392,"y":88,"d":86},{"x":1492,"y":102,"d":56},{"x":890,"y":30,"d":14},{"x":1122,"y":92,"d":78},{"x":926,"y":123,"d":84},{"x":1201,"y":157,"d":72},{"x":1286,"y":173,"d":66},{"x":1348,"y":178,"d":46},{"x":1502,"y":185,"d":72},{"x":1030,"y":176,"d":74},{"x":1108,"y":212,"d":78},{"x":1253,"y":240,"d":26},{"x":1308,"y":272,"d":56},{"x":973,"y":237,"d":68},{"x":1422,"y":245,"d":86},{"x":909,"y":277,"d":66},{"x":1525,"y":310,"d":76},{"x":983,"y":361,"d":78},{"x":1057,"y":373,"d":54},{"x":1437,"y":390,"d":96},{"x":986,"y":480,"d":66},{"x":1520,"y":476,"d":88},{"x":911,"y":515,"d":66},{"x":1408,"y":531,"d":58},{"x":1479,"y":570,"d":56},{"x":965,"y":628,"d":96},{"x":885,"y":645,"d":66},{"x":1553,"y":644,"d":66},{"x":1042,"y":708,"d":76},{"x":1531,"y":720,"d":54},{"x":1395,"y":771,"d":26},{"x":988,"y":832,"d":108},{"x":1283,"y":815,"d":70},{"x":1479,"y":826,"d":80},{"x":1090,"y":853,"d":68},{"x":1417,"y":844,"d":62},{"x":1154,"y":866,"d":58},{"x":1219,"y":866,"d":36},{"x":903,"y":882,"d":90},{"x":1331,"y":901,"d":88},{"x":1545,"y":880,"d":60},{"x":1073,"y":966,"d":76},{"x":1134,"y":977,"d":36},{"x":1212,"y":968,"d":92},{"x":1431,"y":966,"d":76},{"x":1496,"y":986,"d":32},{"x":893,"y":990,"d":66},{"x":1316,"y":1006,"d":36},{"x":1542,"y":990,"d":60},{"x":1005,"y":1020,"d":10}]},"mark":{"type":"circle","color":"#0000BB","opacity":1},"encoding":{"x":{"field":"x","type":"quantitative","axis":null,"scale":{"domain":[0,3665.5],"nice":false,"zero":false}},"y":{"field":"y","type":"quantitative","axis":null,"scale":{"domain":[-2085,2808],"nice":false,"zero":false,"reverse":true}},"size":{"field":"d","type":"quantitative","legend":null,"scale":{"type":"pow","exponent":2,"domain":[0,300],"range":[0,11500]}}}},

{"data":{"values":[
{"s":1,"k":"R","x":[265,310,360,395,410,412,400,370,320,265,205,160,125,110,108,125,165,220],"y":[220,233,290,370,470,560,660,740,800,825,810,760,680,570,460,370,280,230]},
{"s":2,"k":"R","x":[750,815,880,935,970,990,987,990,960,915,885,840,785,700,640,590,572,590,620,700],"y":[128,135,180,245,340,460,570,680,760,830,930,925,928,880,790,690,610,380,270,150]},
{"s":3,"k":"R","x":[1300,1360,1405,1430,1445,1482,1487,1470,1520,1550,1557,1545,1520,1470,1390,1320,1270,1140,1105,1090,1076,1090,1120,1210],"y":[60,70,93,80,28,28,70,140,250,400,500,650,790,890,975,1005,998,905,830,700,520,350,230,90]}
]},"transform":[{"flatten":["x","y"]}],"mark":{"type":"line","filled":true,"interpolate":"cardinal-closed","strokeWidth":0},"encoding":{"x":{"field":"x","type":"quantitative","axis":null,"scale":{"domain":[-1172.2,1568],"nice":false,"zero":false}},"y":{"field":"y","type":"quantitative","axis":null,"scale":{"domain":[-2085,2808],"nice":false,"zero":false,"reverse":true}},"color":{"field":"k","type":"nominal","legend":null},"detail":{"field":"s"},"order":{"value":null}}},
{"data":{"values":[{"x":108,"y":65,"d":76},{"x":260,"y":28,"d":12},{"x":394,"y":85,"d":110},{"x":505,"y":35,"d":18},{"x":18,"y":35,"d":20},{"x":45,"y":125,"d":96},{"x":192,"y":93,"d":84},{"x":250,"y":147,"d":60},{"x":124,"y":174,"d":72},{"x":317,"y":163,"d":72},{"x":477,"y":174,"d":86},{"x":178,"y":199,"d":58},{"x":80,"y":236,"d":54},{"x":418,"y":242,"d":90},{"x":35,"y":271,"d":38},{"x":495,"y":305,"d":84},{"x":8,"y":305,"d":66},{"x":83,"y":356,"d":88},{"x":434,"y":383,"d":86},{"x":490,"y":480,"d":106},{"x":8,"y":483,"d":70},{"x":39,"y":513,"d":48},{"x":70,"y":626,"d":100},{"x":450,"y":676,"d":98},{"x":8,"y":645,"d":62},{"x":505,"y":643,"d":64},{"x":92,"y":827,"d":122},{"x":456,"y":822,"d":92},{"x":348,"y":900,"d":108},{"x":28,"y":880,"d":88},{"x":512,"y":880,"d":70},{"x":158,"y":958,"d":106},{"x":260,"y":965,"d":108},{"x":425,"y":960,"d":90},{"x":20,"y":988,"d":70},{"x":505,"y":985,"d":66},{"x":105,"y":1018,"d":8},
{"x":543,"y":38,"d":10},{"x":682,"y":36,"d":8},{"x":783,"y":38,"d":18},{"x":1032,"y":40,"d":14},{"x":636,"y":75,"d":60},{"x":572,"y":134,"d":120},{"x":923,"y":92,"d":116},{"x":1000,"y":183,"d":48},{"x":1020,"y":303,"d":92},{"x":538,"y":305,"d":76},{"x":1020,"y":488,"d":90},{"x":537,"y":488,"d":70},{"x":610,"y":850,"d":114},{"x":986,"y":837,"d":88},{"x":548,"y":890,"d":82},{"x":1036,"y":888,"d":60},{"x":682,"y":982,"d":100},{"x":783,"y":988,"d":90},{"x":953,"y":962,"d":58},{"x":545,"y":990,"d":68},{"x":1028,"y":992,"d":66},{"x":923,"y":1022,"d":20},
{"x":1097,"y":115,"d":134},{"x":1072,"y":896,"d":50},{"x":1070,"y":982,"d":62},{"x":1464,"y":1015,"d":28},{"x":1563,"y":978,"d":60},{"x":1566,"y":895,"d":36}]},"mark":{"type":"circle","color":"#0000BB","opacity":1},"encoding":{"x":{"field":"x","type":"quantitative","axis":null,"scale":{"domain":[-1172.2,1568],"nice":false,"zero":false}},"y":{"field":"y","type":"quantitative","axis":null,"scale":{"domain":[-2085,2808],"nice":false,"zero":false,"reverse":true}},"size":{"field":"d","type":"quantitative","legend":null,"scale":{"type":"pow","exponent":2,"domain":[0,300],"range":[0,11500]}}}},

{"data":{"values":[{"x":295,"y":62,"d":74},{"x":242,"y":62,"d":32},{"x":350,"y":100,"d":22},{"x":413,"y":90,"d":70},{"x":478,"y":55,"d":48},{"x":544,"y":70,"d":58},{"x":617,"y":80,"d":68},{"x":758,"y":33,"d":16},{"x":826,"y":85,"d":46},{"x":783,"y":101,"d":56},{"x":207,"y":133,"d":76},{"x":316,"y":171,"d":74},{"x":488,"y":170,"d":76},{"x":578,"y":173,"d":58},{"x":642,"y":169,"d":38},{"x":731,"y":187,"d":24},{"x":796,"y":190,"d":62},{"x":532,"y":207,"d":32},{"x":229,"y":229,"d":58},{"x":178,"y":239,"d":42},{"x":667,"y":230,"d":56},{"x":723,"y":250,"d":62},{"x":296,"y":268,"d":60},{"x":592,"y":279,"d":80},{"x":470,"y":307,"d":66},{"x":519,"y":294,"d":48},{"x":815,"y":303,"d":72},{"x":680,"y":304,"d":48},{"x":231,"y":325,"d":44},{"x":281,"y":355,"d":54},{"x":180,"y":366,"d":54},{"x":357,"y":377,"d":76},{"x":420,"y":398,"d":60},{"x":515,"y":378,"d":36},{"x":626,"y":367,"d":44},{"x":733,"y":381,"d":84},{"x":242,"y":423,"d":70},{"x":482,"y":435,"d":64},{"x":562,"y":418,"d":60},{"x":650,"y":423,"d":52},{"x":812,"y":468,"d":78},{"x":277,"y":478,"d":22},{"x":321,"y":498,"d":60},{"x":394,"y":496,"d":58},{"x":637,"y":488,"d":38},{"x":737,"y":479,"d":60},{"x":198,"y":516,"d":64},{"x":461,"y":517,"d":38},{"x":574,"y":511,"d":52},{"x":676,"y":523,"d":46},{"x":630,"y":546,"d":36},{"x":379,"y":559,"d":30},{"x":281,"y":584,"d":70},{"x":333,"y":582,"d":32},{"x":551,"y":584,"d":70},{"x":474,"y":608,"d":58},{"x":748,"y":565,"d":30},{"x":831,"y":568,"d":38},{"x":703,"y":606,"d":60},{"x":225,"y":614,"d":28},{"x":797,"y":604,"d":34},{"x":184,"y":627,"d":56},{"x":381,"y":634,"d":64},{"x":637,"y":660,"d":86},{"x":754,"y":654,"d":66},{"x":430,"y":671,"d":50},{"x":292,"y":666,"d":16},{"x":508,"y":680,"d":36},{"x":239,"y":707,"d":74},{"x":334,"y":701,"d":54},{"x":178,"y":717,"d":68},{"x":389,"y":731,"d":46},{"x":538,"y":734,"d":66},{"x":586,"y":746,"d":22},{"x":445,"y":749,"d":46},{"x":759,"y":737,"d":58},{"x":305,"y":761,"d":50},{"x":664,"y":768,"d":64},{"x":488,"y":781,"d":46},{"x":182,"y":802,"d":58},{"x":410,"y":832,"d":74},{"x":771,"y":824,"d":70},{"x":585,"y":822,"d":54},{"x":636,"y":843,"d":56},{"x":714,"y":845,"d":38},{"x":296,"y":860,"d":88},{"x":515,"y":865,"d":58},{"x":679,"y":866,"d":20},{"x":195,"y":878,"d":58},{"x":564,"y":885,"d":26},{"x":733,"y":900,"d":52},{"x":230,"y":955,"d":72},{"x":441,"y":935,"d":58},{"x":610,"y":938,"d":62},{"x":825,"y":932,"d":48},{"x":286,"y":963,"d":20},{"x":366,"y":967,"d":84},{"x":503,"y":965,"d":68},{"x":660,"y":978,"d":52},{"x":721,"y":973,"d":62},{"x":788,"y":982,"d":50},{"x":566,"y":988,"d":50},{"x":178,"y":993,"d":50},{"x":680,"y":78,"d":50},{"x":700,"y":92,"d":24},{"x":723,"y":110,"d":58},{"x":400,"y":192,"d":64},{"x":398,"y":225,"d":40},{"x":388,"y":262,"d":60},
{"x":1003,"y":62,"d":76},{"x":1255,"y":65,"d":56},{"x":1328,"y":80,"d":78},{"x":1415,"y":97,"d":94},{"x":1509,"y":92,"d":76},{"x":915,"y":133,"d":90},{"x":1125,"y":90,"d":84},{"x":1025,"y":171,"d":76},{"x":1202,"y":168,"d":86},{"x":1287,"y":171,"d":58},{"x":1505,"y":191,"d":68},{"x":936,"y":235,"d":66},{"x":1105,"y":225,"d":94},{"x":1002,"y":271,"d":60},{"x":1378,"y":233,"d":56},{"x":1430,"y":252,"d":64},{"x":1302,"y":278,"d":96},{"x":1193,"y":308,"d":78},{"x":1527,"y":303,"d":90},{"x":880,"y":310,"d":70},{"x":989,"y":349,"d":42},{"x":1067,"y":378,"d":80},{"x":1131,"y":399,"d":56},{"x":1441,"y":382,"d":92},{"x":1352,"y":410,"d":84},{"x":953,"y":418,"d":86},{"x":1194,"y":440,"d":72},{"x":1269,"y":421,"d":66},{"x":1523,"y":471,"d":90},{"x":1445,"y":486,"d":60},{"x":1032,"y":502,"d":68},{"x":1106,"y":499,"d":64},{"x":906,"y":522,"d":66},{"x":1284,"y":510,"d":50},{"x":1382,"y":522,"d":40},{"x":992,"y":585,"d":78},{"x":1261,"y":579,"d":70},{"x":1185,"y":604,"d":70},{"x":1414,"y":599,"d":56},{"x":1092,"y":635,"d":84},{"x":894,"y":622,"d":66},{"x":1348,"y":656,"d":100},{"x":1467,"y":653,"d":84},{"x":1143,"y":678,"d":36},{"x":949,"y":707,"d":80},{"x":1040,"y":710,"d":68},{"x":888,"y":718,"d":78},{"x":1243,"y":733,"d":92},{"x":1545,"y":718,"d":80},{"x":1156,"y":743,"d":40},{"x":1467,"y":738,"d":42},{"x":1375,"y":771,"d":66},{"x":892,"y":805,"d":48},{"x":1122,"y":825,"d":98},{"x":1480,"y":820,"d":84},{"x":1005,"y":855,"d":100},{"x":1296,"y":824,"d":46},{"x":1346,"y":844,"d":58},{"x":1226,"y":863,"d":62},{"x":899,"y":876,"d":64},{"x":1437,"y":888,"d":60},{"x":934,"y":957,"d":84},{"x":1152,"y":936,"d":46},{"x":1077,"y":967,"d":88},{"x":1213,"y":967,"d":88},{"x":1319,"y":942,"d":78},{"x":1430,"y":967,"d":68},{"x":1505,"y":977,"d":52},{"x":882,"y":988,"d":32},{"x":1548,"y":988,"d":36},{"x":1003,"y":1018,"d":8}]},"mark":{"type":"circle","color":"#0000BB","opacity":1},"encoding":{"x":{"field":"x","type":"quantitative","axis":null,"scale":{"domain":[0,3665.5],"nice":false,"zero":false}},"y":{"field":"y","type":"quantitative","axis":null,"scale":{"domain":[-3135,1758],"nice":false,"zero":false,"reverse":true}},"size":{"field":"d","type":"quantitative","legend":null,"scale":{"type":"pow","exponent":2,"domain":[0,300],"range":[0,11500]}}}},

{"data":{"values":[
{"s":1,"k":"P","x":[290,297,290,283],"y":[52,64,77,64]},
{"s":2,"k":"P","x":[8,18,30,10],"y":[490,475,498,530]},
{"s":3,"k":"P","x":[8,20,33,10],"y":[960,955,1000,1020]},
{"s":4,"k":"P","x":[505,513,513],"y":[520,490,525]},
{"s":5,"k":"P","x":[495,512,513],"y":[990,958,1015]},
{"s":6,"k":"P","x":[790,845,838,815,798],"y":[30,40,95,110,95]},
{"s":7,"k":"P","x":[535,550,566,555,535],"y":[440,440,490,540,545]},
{"s":8,"k":"P","x":[533,545,563,535],"y":[945,940,1012,1020]},
{"s":9,"k":"P","x":[1037,1020,1037],"y":[945,980,1018]},
{"s":10,"k":"P","x":[795,808,822],"y":[1020,1012,1020]},
{"s":11,"k":"P","x":[1307,1375,1375,1352,1320],"y":[30,30,115,128,100]},
{"s":12,"k":"P","x":[1062,1085,1108,1095,1075,1062],"y":[440,410,475,530,552,530]},
{"s":13,"k":"P","x":[1080,1100,1085,1068],"y":[690,750,772,762]},
{"s":14,"k":"P","x":[1062,1092,1075,1062],"y":[935,1005,1020,1020]},
{"s":15,"k":"P","x":[1566,1552,1566],"y":[938,970,1012]},
{"s":16,"k":"P","x":[1335,1345,1358],"y":[1018,1012,1018]}
]},"transform":[{"flatten":["x","y"]}],"mark":{"type":"line","filled":true,"interpolate":"cardinal-closed","strokeWidth":0},"encoding":{"x":{"field":"x","type":"quantitative","axis":null,"scale":{"domain":[-1172.2,1568],"nice":false,"zero":false}},"y":{"field":"y","type":"quantitative","axis":null,"scale":{"domain":[-3135,1758],"nice":false,"zero":false,"reverse":true}},"color":{"field":"k","type":"nominal","legend":null},"detail":{"field":"s"},"order":{"value":null}}},
{"data":{"values":[{"x":102,"y":62,"d":74},{"x":193,"y":85,"d":84},{"x":341,"y":78,"d":88},{"x":410,"y":93,"d":104},{"x":480,"y":88,"d":78},{"x":37,"y":134,"d":90},{"x":117,"y":170,"d":78},{"x":252,"y":164,"d":92},{"x":314,"y":164,"d":30},{"x":478,"y":190,"d":60},{"x":177,"y":224,"d":96},{"x":52,"y":238,"d":56},{"x":100,"y":274,"d":52},{"x":406,"y":242,"d":78},{"x":326,"y":273,"d":108},{"x":243,"y":309,"d":84},{"x":494,"y":301,"d":98},{"x":10,"y":302,"d":76},{"x":151,"y":378,"d":94},{"x":66,"y":414,"d":100},{"x":200,"y":402,"d":24},{"x":244,"y":444,"d":68},{"x":300,"y":429,"d":74},{"x":362,"y":414,"d":88},{"x":431,"y":382,"d":94},{"x":124,"y":502,"d":62},{"x":181,"y":497,"d":66},{"x":431,"y":490,"d":56},{"x":490,"y":474,"d":96},{"x":29,"y":525,"d":54},{"x":296,"y":568,"d":70},{"x":93,"y":585,"d":80},{"x":408,"y":591,"d":30},{"x":237,"y":602,"d":66},{"x":20,"y":621,"d":62},{"x":170,"y":638,"d":96},{"x":361,"y":655,"d":114},{"x":447,"y":655,"d":94},{"x":62,"y":707,"d":84},{"x":129,"y":713,"d":54},{"x":280,"y":739,"d":104},{"x":517,"y":720,"d":84},{"x":10,"y":720,"d":82},{"x":380,"y":778,"d":66},{"x":192,"y":824,"d":110},{"x":103,"y":855,"d":100},{"x":458,"y":821,"d":92},{"x":354,"y":844,"d":56},{"x":269,"y":864,"d":56},{"x":22,"y":854,"d":66},{"x":46,"y":958,"d":92},{"x":158,"y":970,"d":88},{"x":259,"y":969,"d":100},{"x":338,"y":942,"d":88},{"x":424,"y":939,"d":104},{"x":475,"y":980,"d":16},
{"x":627,"y":62,"d":72},{"x":717,"y":86,"d":80},{"x":864,"y":80,"d":84},{"x":935,"y":96,"d":106},{"x":1004,"y":92,"d":78},{"x":560,"y":140,"d":100},{"x":640,"y":174,"d":82},{"x":777,"y":167,"d":90},{"x":1002,"y":191,"d":42},{"x":579,"y":242,"d":38},{"x":700,"y":224,"d":100},{"x":622,"y":274,"d":32},{"x":932,"y":243,"d":80},{"x":850,"y":273,"d":110},{"x":1018,"y":298,"d":100},{"x":767,"y":312,"d":84},{"x":538,"y":299,"d":70},{"x":675,"y":380,"d":102},{"x":591,"y":414,"d":108},{"x":954,"y":388,"d":100},{"x":767,"y":450,"d":60},{"x":822,"y":435,"d":72},{"x":886,"y":418,"d":92},{"x":1014,"y":478,"d":110},{"x":649,"y":503,"d":48},{"x":706,"y":498,"d":64},{"x":952,"y":495,"d":30},{"x":817,"y":565,"d":56},{"x":618,"y":584,"d":88},{"x":763,"y":596,"d":58},{"x":543,"y":620,"d":50},{"x":693,"y":642,"d":108},{"x":886,"y":655,"d":124},{"x":972,"y":653,"d":100},{"x":585,"y":708,"d":88},{"x":540,"y":722,"d":80},{"x":1030,"y":722,"d":80},{"x":805,"y":742,"d":116},{"x":902,"y":787,"d":62},{"x":628,"y":852,"d":106},{"x":717,"y":825,"d":112},{"x":984,"y":822,"d":94},{"x":545,"y":851,"d":50},{"x":571,"y":958,"d":104},{"x":682,"y":975,"d":90},{"x":782,"y":965,"d":112},{"x":863,"y":935,"d":94},{"x":949,"y":938,"d":100},
{"x":1155,"y":62,"d":70},{"x":1244,"y":86,"d":72},{"x":1396,"y":78,"d":88},{"x":1464,"y":95,"d":108},{"x":1531,"y":92,"d":76},{"x":1088,"y":144,"d":108},{"x":1167,"y":175,"d":86},{"x":1303,"y":167,"d":92},{"x":1229,"y":224,"d":104},{"x":1378,"y":273,"d":112},{"x":1460,"y":242,"d":80},{"x":1295,"y":314,"d":86},{"x":1068,"y":294,"d":90},{"x":1544,"y":294,"d":106},{"x":1118,"y":417,"d":116},{"x":1203,"y":382,"d":110},{"x":1481,"y":388,"d":100},{"x":1349,"y":438,"d":78},{"x":1414,"y":418,"d":94},{"x":1296,"y":457,"d":50},{"x":1236,"y":498,"d":66},{"x":1540,"y":478,"d":118},{"x":1341,"y":558,"d":40},{"x":1147,"y":580,"d":94},{"x":1293,"y":586,"d":48},{"x":1222,"y":637,"d":114},{"x":1413,"y":653,"d":130},{"x":1499,"y":652,"d":106},{"x":1111,"y":707,"d":100},{"x":1333,"y":738,"d":118},{"x":1430,"y":787,"d":54},{"x":1565,"y":720,"d":90},{"x":1157,"y":851,"d":106},{"x":1245,"y":824,"d":112},{"x":1511,"y":820,"d":96},{"x":1100,"y":950,"d":112},{"x":1210,"y":973,"d":92},{"x":1312,"y":965,"d":110},{"x":1392,"y":932,"d":92},{"x":1476,"y":937,"d":100},{"x":1067,"y":720,"d":88}]},"mark":{"type":"circle","color":"#0000BB","opacity":1},"encoding":{"x":{"field":"x","type":"quantitative","axis":null,"scale":{"domain":[-1172.2,1568],"nice":false,"zero":false}},"y":{"field":"y","type":"quantitative","axis":null,"scale":{"domain":[-3135,1758],"nice":false,"zero":false,"reverse":true}},"size":{"field":"d","type":"quantitative","legend":null,"scale":{"type":"pow","exponent":2,"domain":[0,300],"range":[0,11500]}}}},

{"data":{"values":[{"x":0,"x2":82.5,"y":684,"y2":1400},{"x":414.5,"x2":430,"y":684,"y2":1400},{"x":762,"x2":775,"y":684,"y2":1400},{"x":1107,"x2":1120,"y":684,"y2":1400},{"x":1451,"x2":1468,"y":684,"y2":1400},{"x":82.5,"x2":414.5,"y":684.5,"y2":704.3},{"x":430,"x2":762,"y":684.5,"y2":704.3},{"x":775,"x2":1107,"y":684.5,"y2":703.7},{"x":1120,"x2":1451,"y":684.5,"y2":706},{"x":1468,"x2":1800,"y":684.5,"y2":703.7},{"x":82.5,"x2":414.5,"y":1035.7,"y2":1053.7},{"x":430,"x2":762,"y":1035.7,"y2":1054.3},{"x":775,"x2":1107,"y":1034.7,"y2":1053.7},{"x":1120,"x2":1451,"y":1036.7,"y2":1053.7},{"x":1468,"x2":1800,"y":1034.7,"y2":1053.7},{"x":82.5,"x2":414.5,"y":1385,"y2":1400},{"x":430,"x2":762,"y":1384.3,"y2":1400},{"x":775,"x2":1107,"y":1385,"y2":1400},{"x":1120,"x2":1451,"y":1385,"y2":1400},{"x":1468,"x2":1800,"y":1385,"y2":1400}]},"mark":{"type":"rect","color":"white"},"encoding":{"x":{"field":"x","type":"quantitative","axis":null,"scale":{"domain":[0,1800],"nice":false,"zero":false}},"x2":{"field":"x2"},"y":{"field":"y","type":"quantitative","axis":null,"scale":{"domain":[0,1631],"nice":false,"zero":false,"reverse":true}},"y2":{"field":"y2"}}},

{"data":{"values":[{"t":"A","x":24,"y":61},{"t":"B","x":26,"y":412},{"t":"C","x":24,"y":764},{"t":"D","x":25,"y":1116}]},"mark":{"type":"text","font":"Liberation Sans","fontWeight":"bold","fontSize":67,"align":"center","baseline":"alphabetic","color":"black","stroke":"black","strokeWidth":2},"encoding":{"x":{"field":"x","type":"quantitative","axis":null,"scale":{"domain":[0,1800],"nice":false,"zero":false}},"y":{"field":"y","type":"quantitative","axis":null,"scale":{"domain":[0,1631],"nice":false,"zero":false,"reverse":true}},"text":{"field":"t"}}},

{"data":{"values":[{"x":82,"x2":1756,"y":1426}]},"mark":{"type":"rule","color":"black","strokeWidth":11.5},"encoding":{"x":{"field":"x","type":"quantitative","axis":null,"scale":{"domain":[0,1800],"nice":false,"zero":false}},"x2":{"field":"x2"},"y":{"field":"y","type":"quantitative","axis":null,"scale":{"domain":[0,1631],"nice":false,"zero":false,"reverse":true}}}},
{"data":{"values":[{"x":1754,"y":1404},{"x":1800,"y":1426},{"x":1754,"y":1449}]},"mark":{"type":"line","filled":true,"color":"black","strokeWidth":0,"interpolate":"linear-closed"},"encoding":{"x":{"field":"x","type":"quantitative","axis":null,"scale":{"domain":[0,1800],"nice":false,"zero":false}},"y":{"field":"y","type":"quantitative","axis":null,"scale":{"domain":[0,1631],"nice":false,"zero":false,"reverse":true}},"order":{"value":null}}},

{"data":{"values":[{"t":"10","x":195,"y":1517},{"t":"10","x":560,"y":1517},{"t":"10","x":901,"y":1517},{"t":"10","x":1242,"y":1517},{"t":"10","x":1582,"y":1517}]},"mark":{"type":"text","font":"Liberation Serif","fontSize":78,"align":"left","baseline":"alphabetic","color":"black","dx":-3},"encoding":{"x":{"field":"x","type":"quantitative","axis":null,"scale":{"domain":[0,1800],"nice":false,"zero":false}},"y":{"field":"y","type":"quantitative","axis":null,"scale":{"domain":[0,1631],"nice":false,"zero":false,"reverse":true}},"text":{"field":"t"}}},
{"data":{"values":[{"t":"0","x":273,"y":1484},{"t":"1","x":638,"y":1484},{"t":"2","x":978,"y":1484},{"t":"3","x":1318,"y":1484},{"t":"4","x":1657,"y":1484}]},"mark":{"type":"text","font":"Liberation Serif","fontSize":56,"align":"left","baseline":"alphabetic","color":"black"},"encoding":{"x":{"field":"x","type":"quantitative","axis":null,"scale":{"domain":[0,1800],"nice":false,"zero":false}},"y":{"field":"y","type":"quantitative","axis":null,"scale":{"domain":[0,1631],"nice":false,"zero":false,"reverse":true}},"text":{"field":"t"}}},
{"data":{"values":[{"t":"τ","x":308,"y":1515},{"t":"τ","x":666,"y":1515},{"t":"τ","x":1016,"y":1515},{"t":"τ","x":1349,"y":1515},{"t":"τ","x":1688,"y":1515}]},"mark":{"type":"text","font":"Liberation Serif","fontStyle":"italic","fontSize":84,"align":"left","baseline":"alphabetic","color":"black"},"encoding":{"x":{"field":"x","type":"quantitative","axis":null,"scale":{"domain":[0,1800],"nice":false,"zero":false}},"y":{"field":"y","type":"quantitative","axis":null,"scale":{"domain":[0,1631],"nice":false,"zero":false,"reverse":true}},"text":{"field":"t"}}},
{"data":{"values":[{"t":"Time[a.u]","x":1507,"y":1613}]},"mark":{"type":"text","font":"Liberation Serif","fontStyle":"italic","fontSize":64,"align":"left","baseline":"alphabetic","color":"black"},"encoding":{"x":{"field":"x","type":"quantitative","axis":null,"scale":{"domain":[0,1800],"nice":false,"zero":false}},"y":{"field":"y","type":"quantitative","axis":null,"scale":{"domain":[0,1631],"nice":false,"zero":false,"reverse":true}},"text":{"field":"t"}}},

{"data":{"values":[{"x":824,"x2":890,"y":1557,"y2":1631}]},"mark":{"type":"rect","color":"#0014B4","cornerRadius":12},"encoding":{"x":{"field":"x","type":"quantitative","axis":null,"scale":{"domain":[0,1800],"nice":false,"zero":false}},"x2":{"field":"x2"},"y":{"field":"y","type":"quantitative","axis":null,"scale":{"domain":[0,1631],"nice":false,"zero":false,"reverse":true}},"y2":{"field":"y2"}}},
{"data":{"values":[{"x":920,"x2":985,"y":1557,"y2":1631}]},"mark":{"type":"rect","color":"#58C43A","cornerRadius":12},"encoding":{"x":{"field":"x","type":"quantitative","axis":null,"scale":{"domain":[0,1800],"nice":false,"zero":false}},"x2":{"field":"x2"},"y":{"field":"y","type":"quantitative","axis":null,"scale":{"domain":[0,1631],"nice":false,"zero":false,"reverse":true}},"y2":{"field":"y2"}}},
{"data":{"values":[{"x":1016,"x2":1082,"y":1557,"y2":1631}]},"mark":{"type":"rect","color":"#B5261A","cornerRadius":12},"encoding":{"x":{"field":"x","type":"quantitative","axis":null,"scale":{"domain":[0,1800],"nice":false,"zero":false}},"x2":{"field":"x2"},"y":{"field":"y","type":"quantitative","axis":null,"scale":{"domain":[0,1631],"nice":false,"zero":false,"reverse":true}},"y2":{"field":"y2"}}},
{"data":{"values":[{"t":"R","x":857,"y":1615},{"t":"P","x":952,"y":1615},{"t":"N","x":1049,"y":1615}]},"mark":{"type":"text","font":"Liberation Sans","fontWeight":"bold","fontSize":53,"align":"center","baseline":"alphabetic","color":"white"},"encoding":{"x":{"field":"x","type":"quantitative","axis":null,"scale":{"domain":[0,1800],"nice":false,"zero":false}},"y":{"field":"y","type":"quantitative","axis":null,"scale":{"domain":[0,1631],"nice":false,"zero":false,"reverse":true}},"text":{"field":"t"}}}
]}
